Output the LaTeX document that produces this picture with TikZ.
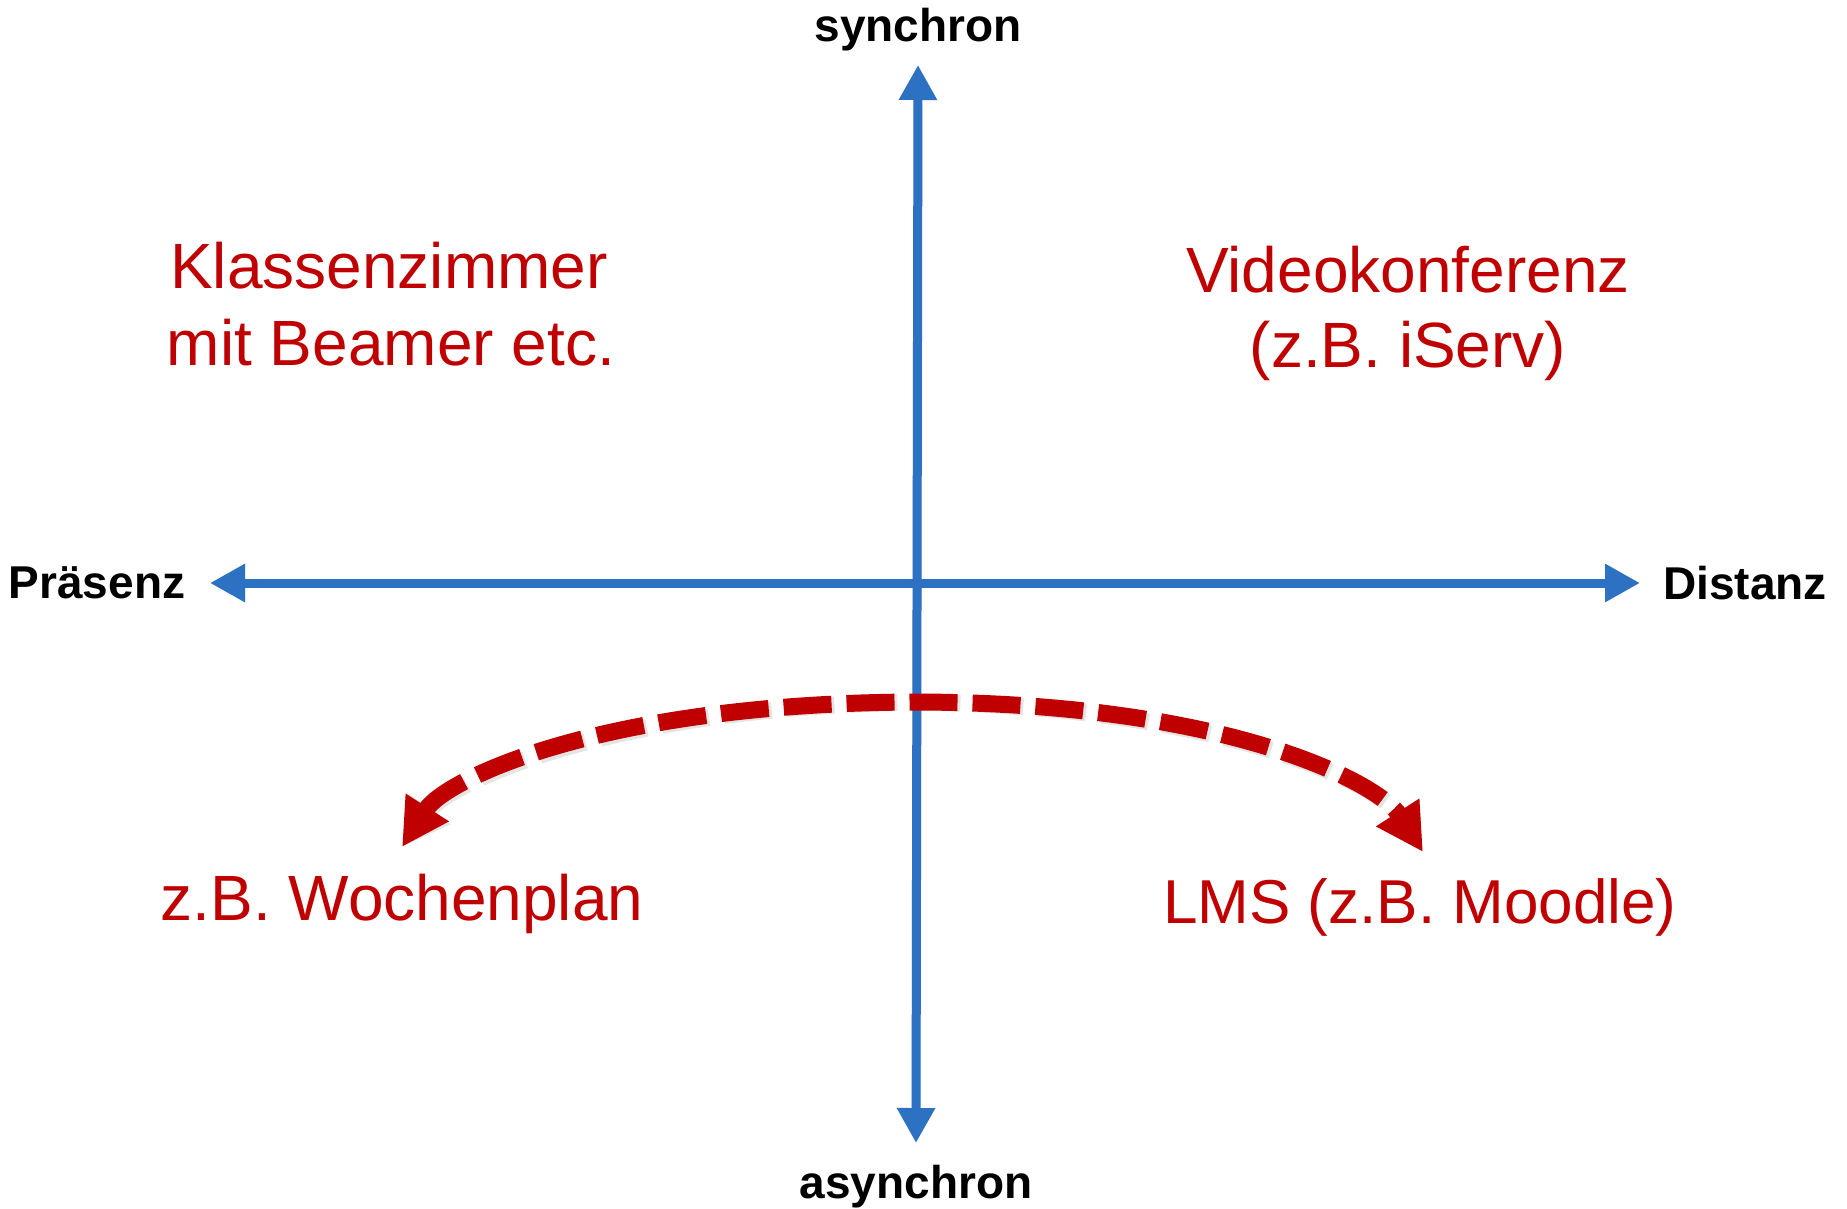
\documentclass[tikz,border=0pt]{standalone}
\usepackage{fontspec}
\setmainfont{Liberation Sans}
\usetikzlibrary{arrows.meta}
\definecolor{axisblue}{HTML}{2C71C2}
\definecolor{darkred}{HTML}{C00000}
\begin{document}
\begin{tikzpicture}[x=1pt,y=-1pt,
  axisarrow/.style={line width=9pt, draw=axisblue,
    {Triangle[length=35pt,width=36pt]}-{Triangle[length=35pt,width=36pt]}},
  swingarrow/.style={line width=17pt, draw=darkred, dash pattern=on 48pt off 15pt,
    {Triangle[length=47pt,width=48pt]}-{Triangle[length=47pt,width=48pt]}},
  softshadow/.style={draw=black, opacity=0.10, shift={(3,4)}},
  axlabel/.style={font=\fontsize{46}{55}\selectfont\bfseries, text=black, inner sep=0pt, anchor=base},
  redlabel/.style={font=\fontsize{64}{77}\selectfont, text=darkred, inner sep=0pt, anchor=base}
]
\useasboundingbox (0,0) rectangle (1847,1209);

% axis end points
\coordinate (top) at (918,65);
\coordinate (bot) at (916,1143);
\coordinate (lft) at (210,583);
\coordinate (rgt) at (1640,583);
% swing arrow points
\coordinate (sl) at (402,847);
\coordinate (sm) at (917,702);
\coordinate (sr) at (1423,852);

% shadows
\draw[axisarrow, softshadow] (lft) -- (rgt);
\draw[axisarrow, softshadow] (bot) -- (top);
\draw[swingarrow, softshadow] (sl) .. controls (445,780) and (600,703) .. (sm)
  .. controls (1234,703) and (1380,785) .. (sr);

% axes
\draw[axisarrow] (lft) -- (rgt);
\draw[axisarrow] (bot) -- (top);

% curved dashed arrow
\draw[swingarrow] (sl) .. controls (445,780) and (600,703) .. (sm)
  .. controls (1234,703) and (1380,785) .. (sr);

% axis labels
\node[axlabel] (syn) at (918,42) {synchron};
\node[axlabel] (asyn) at (916,1198) {asynchron};
\node[axlabel] (pra) at (97,598) {Präsenz};
\node[axlabel] (dis) at (1745,599) {Distanz};

% quadrant labels
\node[redlabel] (k1) at (389,288) {Klassenzimmer};
\node[redlabel] (k2) at (391,365) {mit Beamer etc.};
\node[redlabel] (v1) at (1408,292) {Videokonferenz};
\node[redlabel] (v2) at (1408,367) {(z.B. iServ)};
\node[redlabel] (w1) at (402,920) {z.B. Wochenplan};
\node[redlabel, font=\fontsize{62}{75}\selectfont] (l1) at (1420,923) {LMS (z.B. Moodle)};
\end{tikzpicture}
\end{document}
